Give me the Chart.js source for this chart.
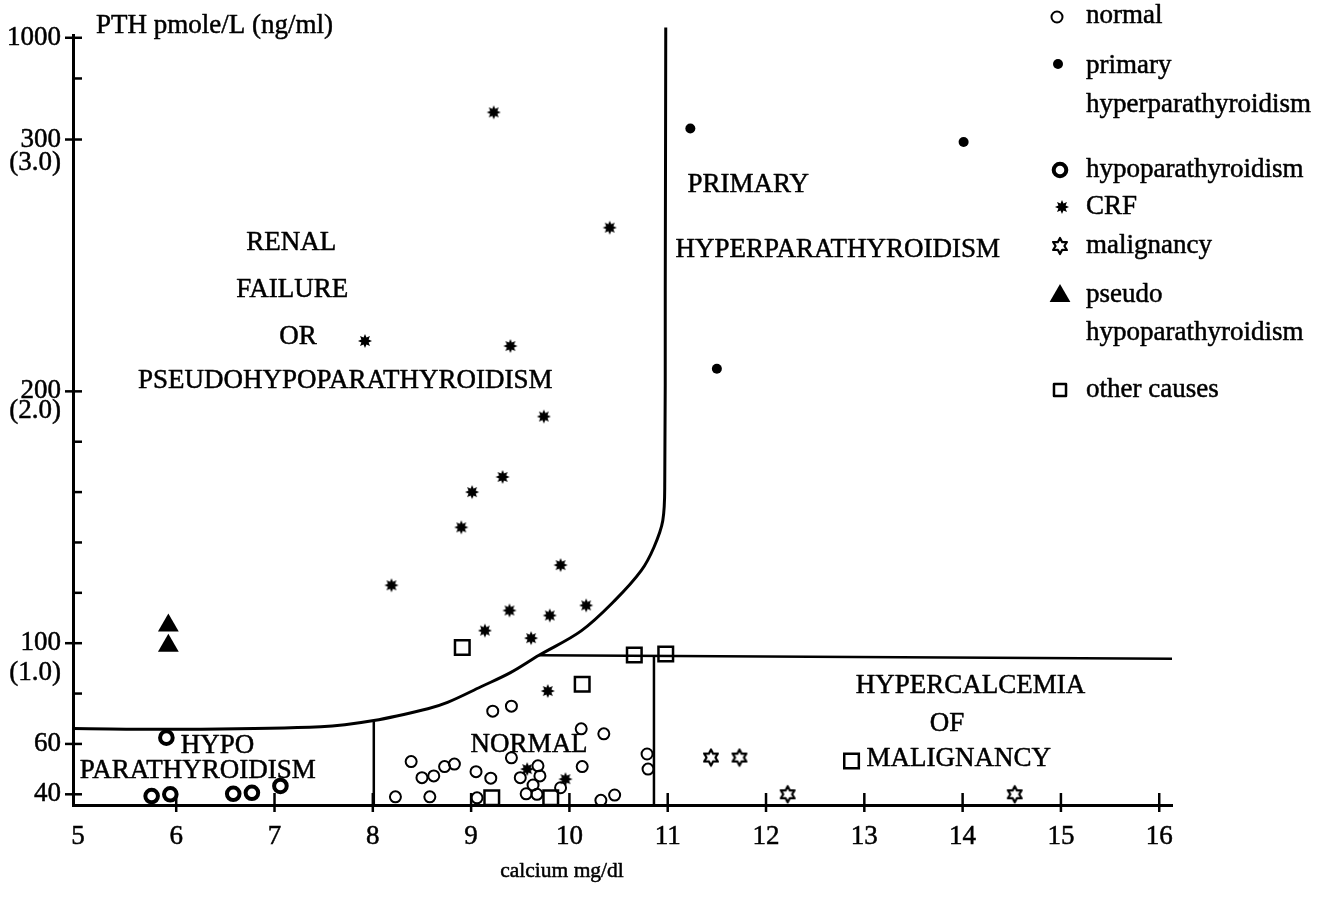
<!DOCTYPE html>
<html>
<head>
<meta charset="utf-8">
<style>
  html, body { margin: 0; padding: 0; background: #fff; }
  #wrap { width: 1326px; height: 904px; }
</style>
<script src="https://cdn.jsdelivr.net/npm/chart.js@4.4.1/dist/chart.umd.min.js"></script>
</head>
<body>
<div id="wrap"><canvas id="chart"></canvas></div>
<script>
// calcium (mg/dl) on x, PTH (pmole/L) on y
const X_TICKS = [5, 6, 7, 8, 9, 10, 11, 12, 13, 14, 15, 16]
const Y_TICKS = [40, 60, 80, 100, 120, 140, 160, 180, 200, 300, 720, 1000]
const Y_TICK_LABELS = ['40', '60', '', '100', '', '', '', '', '200', '300', '', '1000']
const Y_SUB_LABELS = ['', '', '', '(1.0)', '', '', '', '', '(2.0)', '(3.0)', '', '']

const NORMAL_CA = [9.22, 9.41, 10.12, 10.35, 8.39, 8.5, 8.62, 8.73, 8.83, 9.05, 9.2, 9.41, 9.5, 9.68, 9.7, 9.63, 9.56, 9.67, 9.06, 8.23, 8.58, 9.91, 10.13, 10.32, 10.46, 10.79, 10.8]
const NORMAL_PTH = [73, 75, 66, 64, 53, 46.6, 47.3, 51, 52, 49, 46.4, 54.5, 46.6, 51.3, 47.3, 43.7, 40.2, 40, 38.6, 39, 39, 42.6, 51, 37.6, 39.7, 56, 50]

const PRIMARY_CA = [11.23, 14.01, 11.5]
const PRIMARY_PTH = [376, 299, 209]

const HYPO_CA = [5.9, 5.75, 5.94, 6.58, 6.77, 7.06]
const HYPO_PTH = [62.5, 39.3, 40, 40.2, 40.6, 43.3]

const CRF_CA = [9.23, 10.41, 7.92, 9.4, 9.74, 9.32, 9.01, 8.9, 9.91, 8.19, 9.39, 9.8, 10.17, 9.14, 9.61, 9.78, 9.57, 9.96]
const CRF_PTH = [487, 265, 220, 218, 190, 166, 160, 146, 131, 123, 113, 111, 115, 105, 102, 81, 50, 46]

const MALIG_CA = [11.44, 11.73, 12.22, 14.53]
const MALIG_PTH = [54.6, 54.6, 40, 40]

const PSEUDO_CA = [5.92, 5.92]
const PSEUDO_PTH = [107, 99]

const OTHER_CA = [8.91, 10.66, 10.98, 10.13, 9.21, 9.81, 12.87]
const OTHER_PTH = [98.3, 95.3, 95.7, 83.7, 38.6, 38.6, 53.2]

// region boundaries
const CURVE_CA = [4.95, 6.04, 7.47, 8.01, 8.56, 8.76, 9.1, 9.4, 9.69, 10.12, 10.46, 10.73, 10.86, 10.95, 10.97, 10.975, 10.98]
const CURVE_PTH = [66.1, 65.8, 66.8, 69.3, 74, 76.5, 82.7, 88.3, 95.2, 104.9, 116.9, 128.8, 138.1, 148.7, 164.6, 240, 1070]
const NORMAL_TOP_CA = [9.69, 16.13]
const NORMAL_TOP_PTH = [95.2, 93.8]
const LOW_EDGE_CA = [8.01, 8.01]
const LOW_EDGE_PTH = [69.3, 35.75]
const HIGH_EDGE_CA = [10.86, 10.86]
const HIGH_EDGE_PTH = [95, 35.75]

const INK = '#000'
const FONT = '"Liberation Serif", "Times New Roman", Times, serif'
const HEAVY = 0.5 // the print is a bit heavier than plain Times

// the printed axis is linear up to 300, then 300..1000 is squeezed into ~40 units
const toAxis = (v) => (v <= 300 ? v : 300 + ((v - 300) * 40.4) / 700)
const pairs = (xs, ys) => xs.map((x, i) => ({ x: x, y: toAxis(ys[i]) }))

const starMark = (points, outer, inner, filled, lw) => {
  const size = Math.ceil(outer * 2 + 4)
  const c = document.createElement('canvas')
  c.width = size
  c.height = size
  const g = c.getContext('2d')
  g.beginPath()
  for (let i = 0; i < points * 2; i++) {
    const r = i % 2 ? inner : outer
    const a = -Math.PI / 2 + (i * Math.PI) / points
    g.lineTo(size / 2 + r * Math.cos(a), size / 2 + r * Math.sin(a))
  }
  g.closePath()
  if (filled) {
    g.fillStyle = INK
    g.fill()
  } else {
    g.lineWidth = lw
    g.strokeStyle = INK
    g.lineJoin = 'round'
    g.stroke()
  }
  return c
}
const CRF_MARK = starMark(8, 7, 3.9, true)
const MALIG_MARK = starMark(6, 8, 4.4, false, 2.2)

const marks = (label, xs, ys, style, radius, bw, fill) => ({
  label: label,
  data: pairs(xs, ys),
  pointStyle: style,
  pointRadius: radius,
  pointHoverRadius: radius,
  pointBorderWidth: bw,
  pointBorderColor: INK,
  pointBackgroundColor: fill ? INK : 'rgba(0,0,0,0)',
  clip: false,
})
const edge = (xs, ys, width, tension) => ({
  label: '',
  data: pairs(xs, ys),
  showLine: true,
  borderColor: INK,
  borderWidth: width,
  tension: tension,
  pointRadius: 0,
  pointHoverRadius: 0,
  clip: false,
})

const REGION_LABELS = [
  { text: 'RENAL', x: 7.17, y: 258.8 },
  { text: 'FAILURE', x: 7.18, y: 240.1 },
  { text: 'OR', x: 7.24, y: 221.8 },
  { text: 'PSEUDOHYPOPARATHYROIDISM', x: 7.72, y: 204.3 },
  { text: 'PRIMARY', x: 11.82, y: 282.1 },
  { text: 'HYPERPARATHYROIDISM', x: 12.73, y: 256 },
  { text: 'HYPO', x: 6.42, y: 59.2 },
  { text: 'PARATHYROIDISM', x: 6.22, y: 49.3 },
  { text: 'NORMAL', x: 9.59, y: 59.6 },
  { text: 'HYPERCALCEMIA', x: 14.08, y: 83.1 },
  { text: 'OF', x: 13.84, y: 68 },
  { text: 'MALIGNANCY', x: 13.96, y: 53.9 },
]

const LEGEND = [
  { set: 0, lines: ['normal'], mark: [1057, 17], text: [23] },
  { set: 1, lines: ['primary', 'hyperparathyroidism'], mark: [1058, 64], text: [73, 112] },
  { set: 2, lines: ['hypoparathyroidism'], mark: [1060, 170], text: [177] },
  { set: 3, lines: ['CRF'], mark: [1062, 207], text: [214] },
  { set: 4, lines: ['malignancy'], mark: [1060, 246], text: [253] },
  { set: 5, lines: ['pseudo', 'hypoparathyroidism'], mark: [1060, 296], text: [302, 340] },
  { set: 6, lines: ['other causes'], mark: [1060, 390], text: [397], radius: 8.5 },
]
// drop of the "(x.0)" line under its tick, as printed
const SUB_SHIFT = { '(1.0)': 30, '(2.0)': 20, '(3.0)': 23 }

const drawMark = (ctx, ds, cx, cy, radius) => {
  const style = ds.pointStyle
  const r = radius || ds.pointRadius
  ctx.save()
  if (style instanceof HTMLCanvasElement) {
    ctx.drawImage(style, cx - style.width / 2, cy - style.height / 2)
    ctx.restore()
    return
  }
  ctx.fillStyle = ds.pointBackgroundColor
  ctx.strokeStyle = ds.pointBorderColor
  ctx.lineWidth = ds.pointBorderWidth
  ctx.beginPath()
  if (style === 'rect') {
    const s = r * Math.SQRT1_2
    ctx.rect(cx - s, cy - s, 2 * s, 2 * s)
  } else if (style === 'triangle') {
    for (let i = 0; i < 3; i++) {
      const a = (i * 2 * Math.PI) / 3
      ctx.lineTo(cx + Math.sin(a) * r, cy - Math.cos(a) * r)
    }
    ctx.closePath()
  } else {
    ctx.arc(cx, cy, r, 0, Math.PI * 2)
  }
  ctx.fill()
  if (ds.pointBorderWidth > 0) ctx.stroke()
  ctx.restore()
}

const decor = {
  id: 'decor',
  afterDraw(chart) {
    const { ctx, chartArea: area } = chart
    const xs = chart.scales.x
    const ys = chart.scales.y
    const seg = (x1, y1, x2, y2) => {
      ctx.beginPath()
      ctx.moveTo(x1, y1)
      ctx.lineTo(x2, y2)
      ctx.stroke()
    }
    const write = (t, x, y) => {
      ctx.fillText(t, x, y)
      ctx.strokeText(t, x, y)
    }
    ctx.save()
    ctx.strokeStyle = INK
    ctx.lineWidth = 2.5
    X_TICKS.slice(1).forEach((v) => {
      const px = xs.getPixelForValue(v)
      seg(px, area.bottom - 12, px, area.bottom + 7)
    })
    Y_TICKS.forEach((v, i) => {
      const py = ys.getPixelForValue(toAxis(v))
      seg(Y_TICK_LABELS[i] ? area.left - 8 : area.left, py, area.left + 9, py)
    })

    ctx.lineWidth = HEAVY
    ctx.lineJoin = 'round'
    ctx.fillStyle = INK
    ctx.font = '27px ' + FONT
    ctx.textAlign = 'right'
    ctx.textBaseline = 'middle'
    Y_TICKS.forEach((v, i) => {
      const t = Y_SUB_LABELS[i]
      if (!t) return
      write(t, area.left - 12, ys.getPixelForValue(toAxis(v)) + SUB_SHIFT[t])
    })

    ctx.textAlign = 'left'
    ctx.textBaseline = 'alphabetic'
    write('PTH pmole/L (ng/ml)', 96, 33)

    ctx.textAlign = 'center'
    ctx.textBaseline = 'middle'
    REGION_LABELS.forEach((l) => {
      write(l.text, xs.getPixelForValue(l.x), ys.getPixelForValue(toAxis(l.y)))
    })

    ctx.textBaseline = 'alphabetic'
    ctx.font = '21.5px ' + FONT
    write('calcium mg/dl', 562, 877)

    ctx.font = '27px ' + FONT
    ctx.textAlign = 'left'
    LEGEND.forEach((item) => {
      drawMark(ctx, chart.data.datasets[item.set], item.mark[0], item.mark[1], item.radius)
      item.lines.forEach((t, j) => write(t, 1086, item.text[j]))
    })
    ctx.restore()
  },
}

Chart.defaults.font.family = FONT
Chart.defaults.color = INK

const build = () => new Chart(document.getElementById('chart'), {
  type: 'scatter',
  data: {
    datasets: [
      marks('normal', NORMAL_CA, NORMAL_PTH, 'circle', 5.5, 2, false),
      marks('primary hyperparathyroidism', PRIMARY_CA, PRIMARY_PTH, 'circle', 5, 0, true),
      marks('hypoparathyroidism', HYPO_CA, HYPO_PTH, 'circle', 6.3, 4, false),
      marks('CRF', CRF_CA, CRF_PTH, CRF_MARK, 7, 0, true),
      marks('malignancy', MALIG_CA, MALIG_PTH, MALIG_MARK, 8, 0, false),
      marks('pseudo hypoparathyroidism', PSEUDO_CA, PSEUDO_PTH, 'triangle', 12, 0, true),
      marks('other causes', OTHER_CA, OTHER_PTH, 'rect', 10.3, 2.5, false),
      edge(CURVE_CA, CURVE_PTH, 3, 0.35),
      edge(NORMAL_TOP_CA, NORMAL_TOP_PTH, 2.5, 0),
      edge(LOW_EDGE_CA, LOW_EDGE_PTH, 2.5, 0),
      edge(HIGH_EDGE_CA, HIGH_EDGE_PTH, 2.5, 0),
    ],
  },
  options: {
    responsive: true,
    maintainAspectRatio: false,
    devicePixelRatio: 1,
    animation: false,
    events: [],
    layout: { padding: { left: 0, top: 35, right: 154, bottom: 0 } },
    plugins: {
      legend: { display: false },
      tooltip: { enabled: false },
    },
    scales: {
      x: {
        type: 'linear',
        min: 4.95,
        max: 16.13,
        afterBuildTicks: (s) => {
          s.ticks = X_TICKS.map((v) => ({ value: v }))
        },
        afterFit: (s) => {
          s.height = 99
        },
        grid: { display: false, drawTicks: false },
        border: { display: true, color: INK, width: 3 },
        ticks: {
          autoSkip: false,
          maxRotation: 0,
          padding: 16,
          font: { size: 27 },
          color: INK,
          textStrokeColor: INK,
          textStrokeWidth: HEAVY,
          callback: (v) => String(v),
        },
      },
      y: {
        type: 'linear',
        min: 35.75,
        max: 341.5,
        afterBuildTicks: (s) => {
          s.ticks = Y_TICKS.map((v) => ({ value: toAxis(v) }))
        },
        afterFit: (s) => {
          s.width = 73
        },
        grid: { display: false, drawTicks: false },
        border: { display: true, color: INK, width: 3 },
        ticks: {
          autoSkip: false,
          padding: 12,
          font: { size: 27 },
          color: INK,
          textStrokeColor: INK,
          textStrokeWidth: HEAVY,
          callback: (v, i) => Y_TICK_LABELS[i],
        },
      },
    },
  },
  plugins: [decor],
})

// make sure the serif face is ready before the canvas text is laid out
if (document.fonts && document.fonts.load) {
  document.fonts.load('27px "Liberation Serif"').then(build, build)
} else {
  build()
}
</script>
</body>
</html>
